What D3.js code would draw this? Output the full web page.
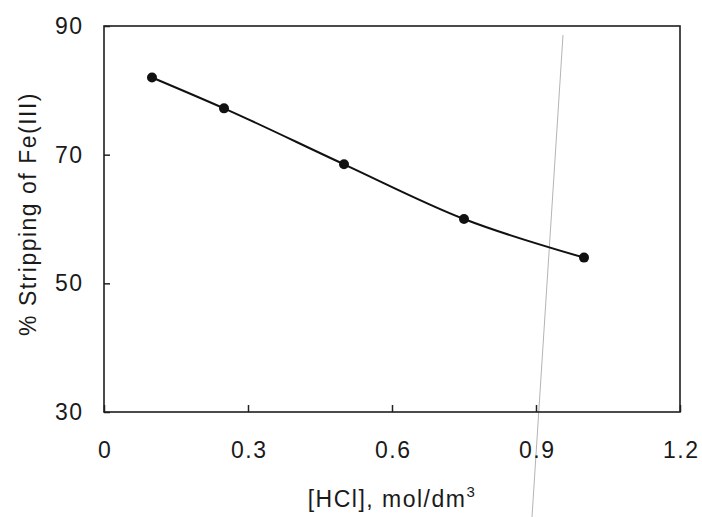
<!DOCTYPE html>
<html>
<head>
<meta charset="utf-8">
<script src="https://cdn.jsdelivr.net/npm/d3@7"></script>
<style>
  html, body { margin: 0; padding: 0; background: #fff; }
  svg { display: block; }
  text { font-family: "Liberation Sans", Arial, sans-serif; fill: #1a1a1a; }
</style>
</head>
<body>
<svg id="chart" width="702" height="517"></svg>
<script>
// ---- data ----
const hclConc = [0.1, 0.25, 0.5, 0.75, 1.0];          // [HCl], mol/dm3
const stripping = [82.0, 77.2, 68.5, 60.0, 54.0];      // % Stripping of Fe(III)
const xTicks = [0, 0.3, 0.6, 0.9, 1.2];
const yTicks = [30, 50, 70, 90];
const xTitle = "[HCl], mol/dm";
const xTitleSup = "3";
const yTitle = "% Stripping of Fe(III)";

// ---- layout ----
const svg = d3.select("#chart");
const mLeft = 104, mRight = 680, mTop = 26, mBottom = 412;
const x = d3.scaleLinear().domain([0, 1.2]).range([mLeft, mRight]);
const y = d3.scaleLinear().domain([30, 90]).range([mBottom, mTop]);
const fontSize = 23, spacing = 1.5;

// faint scan line (background artefact)
svg.append("line")
  .attr("x1", 563).attr("y1", 35).attr("x2", 532).attr("y2", 517)
  .attr("stroke", "#b4b4b4").attr("stroke-width", 1);

// y axis
const yAxis = svg.append("g")
  .attr("transform", `translate(${mLeft},0)`)
  .call(d3.axisLeft(y).tickValues(yTicks).tickSize(-6).tickPadding(20.5).tickFormat(d3.format("d")));
yAxis.select(".domain").remove();
yAxis.selectAll(".tick line").attr("stroke", "#222").attr("stroke-width", 1.5);
yAxis.selectAll(".tick text")
  .attr("font-size", fontSize).attr("letter-spacing", spacing)
  .attr("font-family", "Liberation Sans, Arial, sans-serif").attr("fill", "#1a1a1a");

// x axis
const xAxis = svg.append("g")
  .attr("transform", `translate(0,${mBottom})`)
  .call(d3.axisBottom(x).tickValues(xTicks).tickSize(-7).tickPadding(30)
    .tickFormat(d => d === 0 ? "0" : d3.format(".1f")(d)));
xAxis.select(".domain").remove();
xAxis.selectAll(".tick line").attr("stroke", "#222").attr("stroke-width", 1.5);
xAxis.selectAll(".tick text")
  .attr("font-size", fontSize).attr("letter-spacing", spacing)
  .attr("dx", spacing / 2)
  .attr("font-family", "Liberation Sans, Arial, sans-serif").attr("fill", "#1a1a1a");

// frame
svg.append("rect")
  .attr("x", mLeft).attr("y", mTop)
  .attr("width", mRight - mLeft).attr("height", mBottom - mTop)
  .attr("fill", "none").attr("stroke", "#1e1e1e").attr("stroke-width", 1.6);

// curve
const pts = hclConc.map((v, i) => [v, stripping[i]]);
svg.append("path")
  .datum(pts)
  .attr("fill", "none").attr("stroke", "#111").attr("stroke-width", 2)
  .attr("d", d3.line().x(d => x(d[0])).y(d => y(d[1])).curve(d3.curveMonotoneX));

// markers
svg.selectAll("circle.pt")
  .data(pts).enter().append("circle")
  .attr("class", "pt")
  .attr("cx", d => x(d[0])).attr("cy", d => y(d[1]))
  .attr("r", 5).attr("fill", "#111");

// axis titles
svg.append("text")
  .attr("transform", "translate(36,214) rotate(-90)")
  .attr("text-anchor", "middle")
  .attr("font-size", fontSize).attr("letter-spacing", spacing)
  .text(yTitle);

const xt = svg.append("text")
  .attr("x", 392).attr("y", 507)
  .attr("text-anchor", "middle")
  .attr("font-size", fontSize).attr("letter-spacing", spacing);
xt.append("tspan").text(xTitle);
xt.append("tspan").attr("dy", -10).attr("font-size", 15).text(xTitleSup);
</script>
</body>
</html>
